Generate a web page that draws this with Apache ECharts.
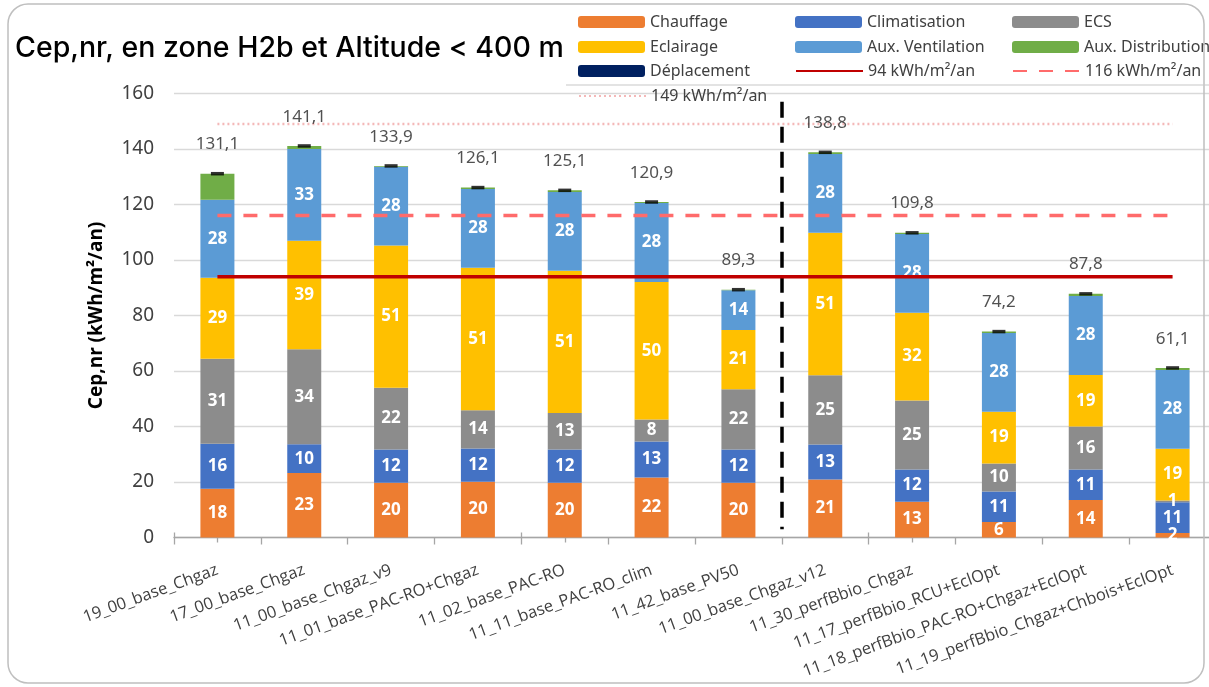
<!DOCTYPE html>
<html lang="fr">
<head>
<meta charset="utf-8">
<title>Cep,nr, en zone H2b et Altitude &lt; 400 m</title>
<script src="https://cdn.jsdelivr.net/npm/echarts@6/dist/echarts.min.js"></script>
<style>
  html, body { margin: 0; padding: 0; background: #ffffff; }
  #chart { width: 1209px; height: 687px; }
</style>
</head>
<body>
<div id="chart"></div>
<script>
// Variantes étudiées
const categories = [
  '19_00_base_Chgaz', '17_00_base_Chgaz', '11_00_base_Chgaz_v9', '11_01_base_PAC-RO+Chgaz',
  '11_02_base_PAC-RO', '11_11_base_PAC-RO_clim', '11_42_base_PV50', '11_00_base_Chgaz_v12',
  '11_30_perfBbio_Chgaz', '11_17_perfBbio_RCU+EclOpt', '11_18_perfBbio_PAC-RO+Chgaz+EclOpt',
  '11_19_perfBbio_Chgaz+Chbois+EclOpt'
];

// Postes de consommation (kWh/m²/an)
const chauffage       = [17.6, 23.2, 19.7, 20.1, 19.7, 21.6, 19.7, 20.9, 12.9, 5.6, 13.5, 1.6];
const climatisation   = [16.2, 10.4, 12.0, 12.0, 12.0, 13.0, 12.0, 12.6, 11.6, 11.0, 11.0, 11.1];
const ecs             = [30.6, 34.2, 22.3, 13.8, 13.2, 7.9, 21.7, 25.0, 24.9, 10.1, 15.5, 0.6];
const eclairage       = [29.2, 39.1, 51.2, 51.3, 51.2, 49.6, 21.4, 51.3, 31.6, 18.6, 18.6, 18.7];
const auxVentilation  = [28.1, 33.1, 28.4, 28.4, 28.4, 28.4, 14.3, 28.4, 28.4, 28.4, 28.4, 28.4];
const auxDistribution = [9.4, 1.1, 0.3, 0.5, 0.6, 0.4, 0.2, 0.6, 0.4, 0.5, 0.8, 0.7];
const deplacement     = [0, 0, 0, 0, 0, 0, 0, 0, 0, 0, 0, 0];

// Totaux affichés au-dessus des barres
const totals = [131.1, 141.1, 133.9, 126.1, 125.1, 120.9, 89.3, 138.8, 109.8, 74.2, 87.8, 61.1];

// Seuils de référence
const seuil94 = 94;
const seuil116 = 116;
const seuil149 = 149;

// Axe des ordonnées
const yMin = 0, yMax = 160, yStep = 20;

// Séparation entre les deux familles de variantes : après la 7e variante
const separationAfter = 7;

const FONT = '"Noto Sans", "Open Sans", sans-serif';
const TXT = '#404040';

const chart = echarts.init(document.getElementById('chart'), null, { renderer: 'canvas' });

const segLabel = {
  show: true,
  position: 'inside',
  color: '#ffffff',
  fontFamily: FONT,
  fontWeight: 'bold',
  fontSize: 17,
  formatter: p => String(Math.round(p.value))
};

function barSeries(name, data, color, withLabel) {
  return {
    name, type: 'bar', stack: 'total', data,
    barWidth: 34,
    itemStyle: { color },
    label: withLabel ? segLabel : { show: false },
    emphasis: { disabled: true },
    z: 2
  };
}

function refLine(name, value, color, width, type) {
  return {
    name, type: 'line',
    data: categories.map(() => value),
    symbol: 'none',
    lineStyle: { color, width, type },
    itemStyle: { color },
    emphasis: { disabled: true },
    z: 5
  };
}

const legendCols = [578, 795, 1012];
const legendRows = [14, 39, 63, 88];
const lineNames = ['94 kWh/m²/an', '116 kWh/m²/an', '149 kWh/m²/an'];
const legendItems = [
  ['Chauffage', 0, 0], ['Climatisation', 1, 0], ['ECS', 2, 0],
  ['Eclairage', 0, 1], ['Aux. Ventilation', 1, 1], ['Aux. Distribution', 2, 1],
  ['Déplacement', 0, 2], ['94 kWh/m²/an', 1, 2], ['116 kWh/m²/an', 2, 2],
  ['149 kWh/m²/an', 0, 3]
];

const option = {
  backgroundColor: '#ffffff',
  animation: false,
  title: {
    text: 'Cep,nr, en zone H2b et Altitude < 400 m',
    left: 10, top: 29,
    textStyle: { fontFamily: 'Inter, "Noto Sans", sans-serif', fontSize: 28.5, fontWeight: 500, color: '#000000' }
  },
  legend: legendItems.map(([name, c, r]) => {
    const lg = {
      data: [name],
      left: legendCols[c], top: legendRows[r],
      itemWidth: 67, itemHeight: 12, itemGap: 6,
      padding: 0,
      selectedMode: false,
      textStyle: { fontFamily: FONT, fontSize: 16, color: TXT }
    };
    if (lineNames.includes(name)) {
      lg.itemStyle = { color: 'rgba(0,0,0,0)', borderWidth: 0 };
    }
    return lg;
  }),
  grid: {
    left: 174, width: 1042, top: 93.5, bottom: 149.5,
    containLabel: false, outerBoundsMode: 'none'
  },
  xAxis: [
    {
      type: 'category', data: categories,
      axisLine: { lineStyle: { color: '#a6a6a6', width: 1.3 } },
      axisTick: { show: true, length: 7, lineStyle: { color: '#a6a6a6', width: 1.3 } },
      axisLabel: {
        interval: 0, rotate: 20, margin: 32,
        fontFamily: '"Open Sans", sans-serif', fontSize: 16.5, color: TXT
      }
    },
    {
      // repères au centre de chaque catégorie
      type: 'category', data: categories, position: 'bottom',
      axisLine: { show: false },
      axisTick: { show: true, alignWithLabel: true, length: 5, lineStyle: { color: '#a6a6a6', width: 1.3 } },
      axisLabel: { show: false }
    },
    {
      // repères des limites, côté intérieur
      type: 'category', data: categories, position: 'bottom',
      axisLine: { show: false },
      axisTick: { show: true, inside: true, length: 5, lineStyle: { color: '#a6a6a6', width: 1.3 } },
      axisLabel: { show: false }
    },
    {
      // axe continu sur les limites de catégories, pour la ligne de séparation
      type: 'value', min: 0, max: categories.length, show: false
    }
  ],
  yAxis: {
    type: 'value', min: yMin, max: yMax, interval: yStep,
    name: 'Cep,nr (kWh/m²/an)',
    nameLocation: 'middle', nameGap: 68,
    nameTextStyle: { fontFamily: FONT, fontSize: 19, fontWeight: 'bold', color: '#000000' },
    axisLine: { show: false },
    axisTick: { show: false },
    axisLabel: { fontFamily: FONT, fontSize: 19, color: TXT, margin: 20 },
    splitLine: { lineStyle: { color: '#d9d9d9', width: 1.3 } }
  },
  series: [
    barSeries('Chauffage', chauffage, '#ED7D31', true),
    barSeries('Climatisation', climatisation, '#4472C4', true),
    barSeries('ECS', ecs, '#8C8C8C', true),
    barSeries('Eclairage', eclairage, '#FFC000', true),
    barSeries('Aux. Ventilation', auxVentilation, '#5B9BD5', true),
    barSeries('Aux. Distribution', auxDistribution, '#70AD47', false),
    barSeries('Déplacement', deplacement, '#002060', false),
    refLine('94 kWh/m²/an', seuil94, '#C00000', 3.5, 'solid'),
    refLine('116 kWh/m²/an', seuil116, '#FF6B6B', 3.5, [14, 12]),
    refLine('149 kWh/m²/an', seuil149, '#F4B8B8', 2.5, [2, 3]),
    {
      name: 'Total', type: 'scatter',
      data: totals,
      symbol: 'rect', symbolSize: [13, 3.5],
      itemStyle: { color: '#000000' },
      label: {
        show: true, position: 'top', distance: 19,
        fontFamily: FONT, fontSize: 17, color: '#262626',
        formatter: p => p.value.toFixed(1).replace('.', ',')
      },
      emphasis: { disabled: true },
      z: 6
    },
    {
      name: 'Séparation', type: 'line', xAxisIndex: 3,
      data: [],
      markLine: {
        silent: true, symbol: 'none',
        lineStyle: { color: '#000000', width: 3.5, type: [16, 9] },
        label: { show: false },
        data: [[{ coord: [separationAfter, 157] }, { coord: [separationAfter, 3] }]]
      },
      z: 6
    }
  ],
  graphic: [
    {
      // cadre du graphique
      type: 'rect', silent: true, z: 100,
      shape: { x: 8, y: 4, width: 1196, height: 679, r: 20 },
      style: { fill: 'none', stroke: '#bfbfbf', lineWidth: 1.5 }
    },
    {
      // bord inférieur du cadre de légende
      type: 'line', silent: true, z: 100,
      shape: { x1: 566, y1: 85, x2: 1209, y2: 85 },
      style: { stroke: '#c8c8c8', lineWidth: 1.2 }
    }
  ]
};

chart.setOption(option);
</script>
</body>
</html>
